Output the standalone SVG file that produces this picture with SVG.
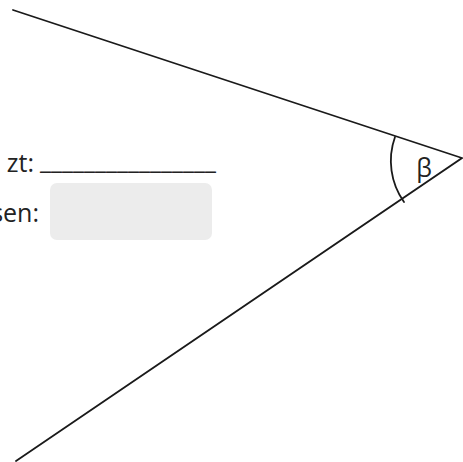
<svg xmlns="http://www.w3.org/2000/svg" width="463" height="462" viewBox="0 0 463 462">
<style>
.ln{stroke:#1a1a1a;stroke-width:1.8;fill:none;stroke-linecap:round}
.t{font-family:"Open Sans",sans-serif;font-size:25px;fill:#222}
</style>
<rect width="463" height="462" fill="#fff"/>
<g id="angle">
<path class="ln" d="M13 10 L462 158 L16 461"/>
<path class="ln" d="M395 137 A71 71 0 0 0 404 202"/>
<text class="t" x="424" y="177" text-anchor="middle" font-size="26">β</text>
</g>
<g id="estimate">
<text class="t" x="34" y="172" text-anchor="end">zt:</text>
<text class="t" x="40" y="169" textLength="176" lengthAdjust="spacing">________________</text>
</g>
<g id="measured">
<text class="t" x="39" y="222" text-anchor="end">sen:</text>
<rect x="50" y="183" width="162" height="57" rx="7" fill="#ececec"/>
</g>
</svg>
